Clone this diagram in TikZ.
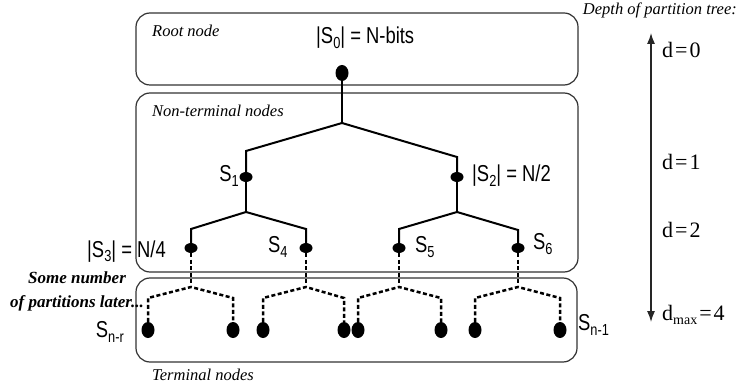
\documentclass[tikz,border=0pt]{standalone}
\usepackage{fontspec}
\setmainfont{Liberation Serif}
\newfontfamily\lsans[FakeStretch=0.8]{Liberation Sans}
\usetikzlibrary{arrows.meta,shapes.geometric}
\newcommand\lsb[1]{\raisebox{-5pt}{\fontsize{16}{16}\selectfont #1}}
\begin{document}
\begin{tikzpicture}[x=1pt,y=-1pt,
 box/.style={draw=black!80,line width=1.2pt,rounded corners=14pt},
 sl/.style={font=\lsans\fontsize{23}{23}\selectfont,inner sep=0pt},
 il/.style={font=\itshape\fontsize{16.5}{16.5}\selectfont,inner sep=0pt},
 bl/.style={font=\bfseries\itshape\fontsize{17}{17}\selectfont,inner sep=0pt,anchor=base},
 dl/.style={font=\fontsize{22}{22}\selectfont,inner sep=0pt,anchor=base west},
 hdot/.style={ellipse,fill=black,minimum width=13pt,minimum height=10pt,inner sep=0pt},
 vdot/.style={ellipse,fill=black,minimum width=13pt,minimum height=16pt,inner sep=0pt},
 edge/.style={line width=2pt},
 dedge/.style={line width=2.5pt,dash pattern=on 4pt off 2.5pt},
]
\useasboundingbox (0,0) rectangle (738,387);
% boxes
\draw[box] (136,13) rectangle (578,85);
\draw[box] (136,93) rectangle (578,272);
\draw[box] (136,278) rectangle (577,362);
% coordinates
\coordinate (b0) at (342,123);
\coordinate (c1) at (246,151);
\coordinate (c2) at (457,157);
\coordinate (b1) at (246,212);
\coordinate (b2) at (457,212);
\coordinate (c3) at (191,229);
\coordinate (c4) at (306,229);
\coordinate (c5) at (399,229);
\coordinate (c6) at (518,230);
\coordinate (d3) at (191,287);
\coordinate (d4) at (306,287);
\coordinate (d5) at (399,287);
\coordinate (d6) at (518,287);
\coordinate (e3l) at (148,298);
\coordinate (e3r) at (233,298);
\coordinate (e4l) at (263,298);
\coordinate (e4r) at (344,298);
\coordinate (e5l) at (358,298);
\coordinate (e5r) at (441,298);
\coordinate (e6l) at (475,298);
\coordinate (e6r) at (560,298);
% dots
\node[vdot] (r0) at (342,73) {};
\node[hdot] (s1) at (246,177) {};
\node[hdot] (s2) at (457,177) {};
\node[hdot] (s3) at (191,248) {};
\node[hdot] (s4) at (306,248) {};
\node[hdot] (s5) at (399,248) {};
\node[hdot] (s6) at (518,248) {};
\node[vdot] (t3l) at (148,330) {};
\node[vdot] (t3r) at (233,330) {};
\node[vdot] (t4l) at (263,330) {};
\node[vdot] (t4r) at (344,330) {};
\node[vdot] (t5l) at (358,330) {};
\node[vdot] (t5r) at (441,330) {};
\node[vdot] (t6l) at (475,330) {};
\node[vdot] (t6r) at (560,330) {};
% solid edges
\draw[edge] (r0) -- (b0);
\draw[edge] (s1) -- (c1) -- (b0) -- (c2) -- (s2);
\draw[edge] (s1) -- (b1);
\draw[edge] (s3) -- (c3) -- (b1) -- (c4) -- (s4);
\draw[edge] (s2) -- (b2);
\draw[edge] (s5) -- (c5) -- (b2) -- (c6) -- (s6);
% dashed edges
\draw[dedge] (s3) -- (d3);
\draw[dedge] (t3l) -- (e3l) -- (d3) -- (e3r) -- (t3r);
\draw[dedge] (s4) -- (d4);
\draw[dedge] (t4l) -- (e4l) -- (d4) -- (e4r) -- (t4r);
\draw[dedge] (s5) -- (d5);
\draw[dedge] (t5l) -- (e5l) -- (d5) -- (e5r) -- (t5r);
\draw[dedge] (s6) -- (d6);
\draw[dedge] (t6l) -- (e6l) -- (d6) -- (e6r) -- (t6r);
% labels
\node[il,anchor=base west] (lroot) at (152,37) {Root node};
\node[il,anchor=base west] (lnon) at (152,117) {Non-terminal nodes};
\node[il,anchor=base west] (lterm) at (152,380) {Terminal nodes};
\node[sl,anchor=base west] (l0) at (316,44) {|S\lsb{0}| = N-bits};
\node[sl,anchor=base east] (l1) at (239,182) {S\lsb{1}};
\node[sl,anchor=base west] (l2) at (472,182) {|S\lsb{2}| = N/2};
\node[sl,anchor=base west] (l3) at (87,257) {|S\lsb{3}| = N/4};
\node[sl,anchor=base west] (l4) at (268,252) {S\lsb{4}};
\node[sl,anchor=base west] (l5) at (415,252) {S\lsb{5}};
\node[sl,anchor=base west] (l6) at (533,250) {S\lsb{6}};
\node[sl,anchor=base east] (lnr) at (124,337) {S\lsb{n-r}};
\node[sl,anchor=base west] (ln1) at (578,330) {S\lsb{n-1}};
\node[bl] (some1) at (77,283) {Some number};
\node[bl] (some2) at (77,307) {of partitions later...};
% depth axis
\node[il,anchor=base east] (ldepth) at (737,15) {Depth of partition tree:};
\coordinate (atop) at (651,33);
\coordinate (abot) at (651,322);
\draw[black!85,line width=1.2pt,{Latex[length=11pt,width=8pt]}-{Latex[length=11pt,width=8pt]}] (atop) -- (abot);
\node[dl] (d0) at (662,58) {d\kern2pt=\kern2pt0};
\node[dl] (d1) at (662,170) {d\kern2pt=\kern2pt1};
\node[dl] (d2) at (662,237) {d\kern2pt=\kern2pt2};
\node[dl] (dm) at (662,320) {d\raisebox{-4pt}{\fontsize{14}{14}\selectfont max}\kern2pt=\kern2pt4};
\end{tikzpicture}
\end{document}
